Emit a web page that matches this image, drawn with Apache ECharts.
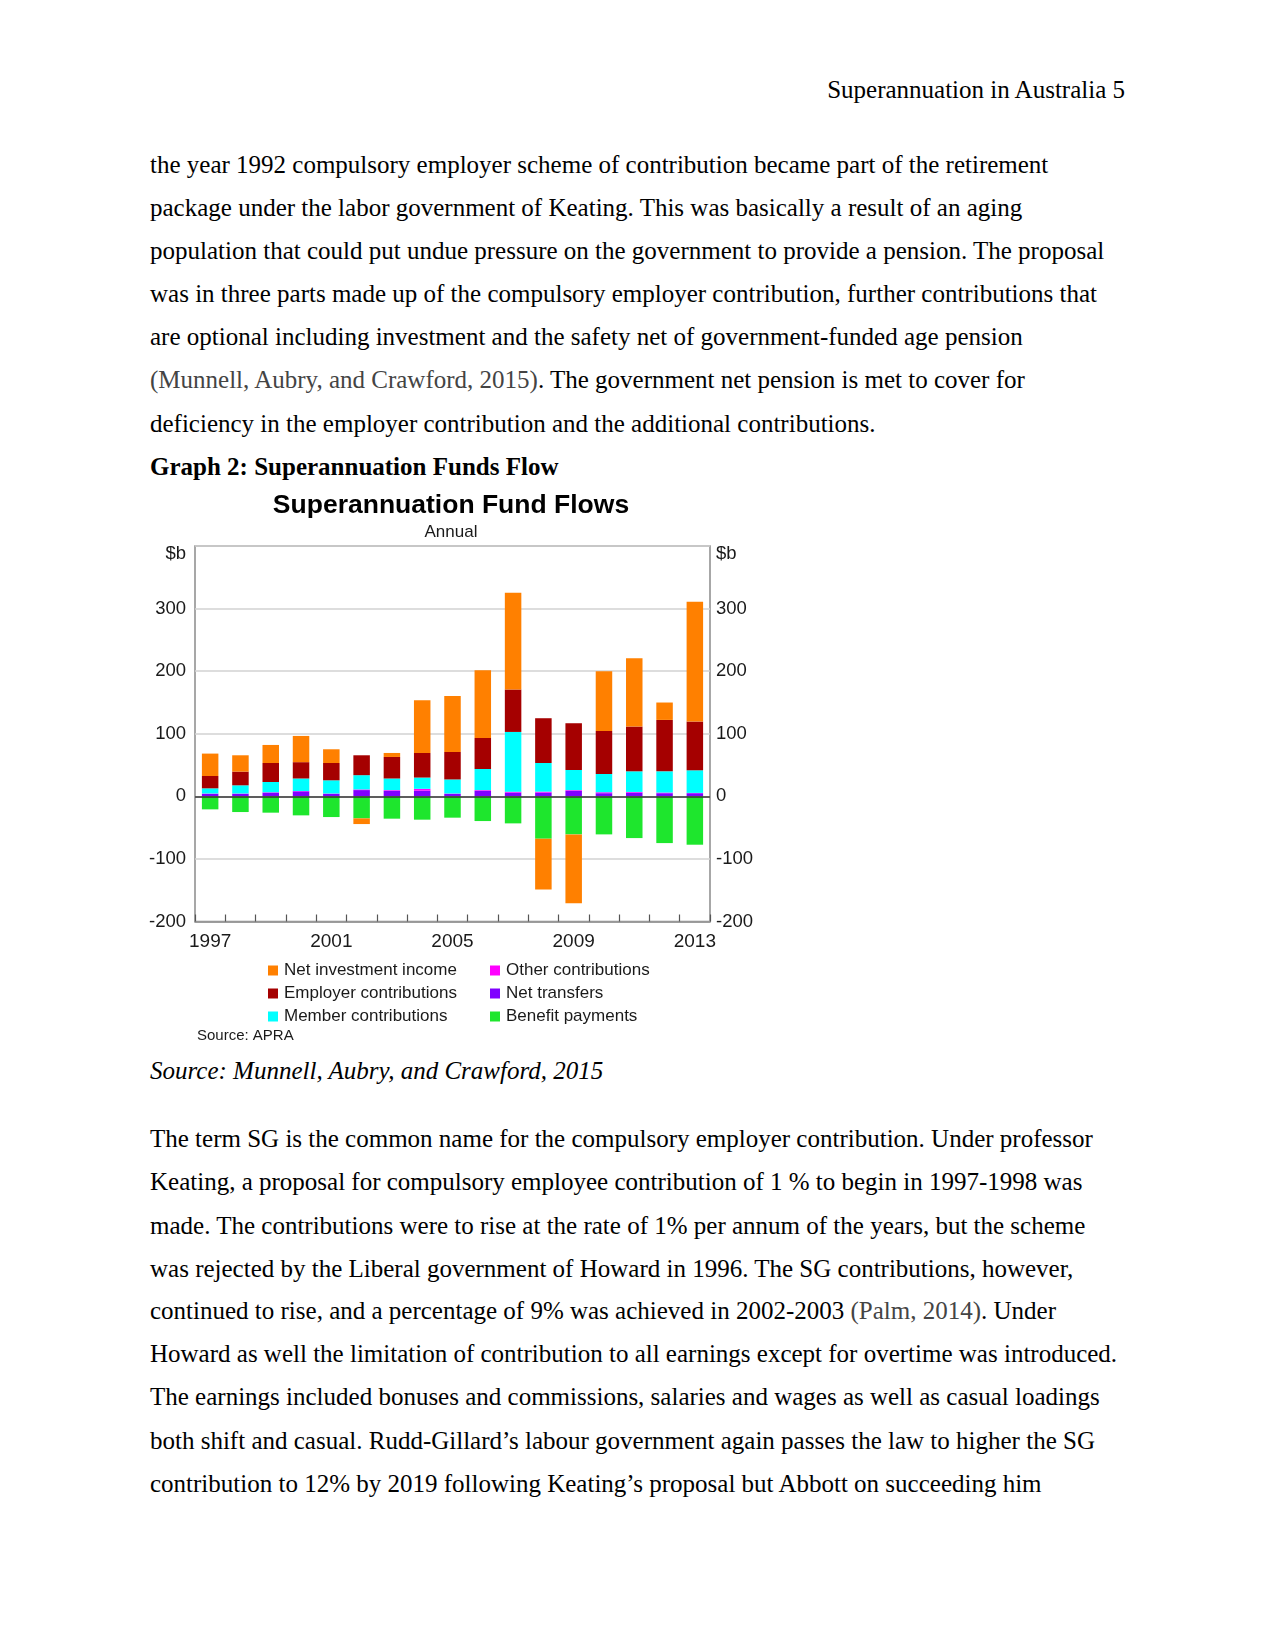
<!DOCTYPE html>
<html>
<head>
<meta charset="utf-8">
<script src="https://cdn.jsdelivr.net/npm/echarts@6/dist/echarts.min.js"></script>
<style>
  html, body { margin:0; padding:0; background:#fff; }
  #page { position:relative; width:1275px; height:1651px; overflow:hidden; background:#fff; }
  .ln { position:absolute; left:150px; white-space:nowrap; font-family:'Liberation Serif','Times New Roman',serif; font-size:25px; line-height:40px; height:40px; color:#000; }
  .cite { color:#444; }
  #chart { position:absolute; left:0; top:0; width:1275px; height:1651px; }
</style>
</head>
<body>
<div id="page">
  <div class="ln" style="left:auto; right:150px; top:70px;">Superannuation in Australia 5</div>
  <div class="ln" style="top:145px;">the year 1992 compulsory employer scheme of contribution became part of the retirement</div>
  <div class="ln" style="top:188px;">package under the labor government of Keating. This was basically a result of an aging</div>
  <div class="ln" style="top:231px;">population that could put undue pressure on the government to provide a pension. The proposal</div>
  <div class="ln" style="top:274px;">was in three parts made up of the compulsory employer contribution, further contributions that</div>
  <div class="ln" style="top:317px;">are optional including investment and the safety net of government-funded age pension</div>
  <div class="ln" style="top:360px;"><span class="cite">(Munnell, Aubry, and Crawford, 2015)</span>. The government net pension is met to cover for</div>
  <div class="ln" style="top:404px;">deficiency in the employer contribution and the additional contributions.</div>
  <div class="ln" style="top:447px; font-weight:bold;">Graph 2: Superannuation Funds Flow</div>
  <div class="ln" style="top:1051px; font-style:italic;">Source: Munnell, Aubry, and Crawford, 2015</div>
  <div class="ln" style="top:1119px;">The term SG is the common name for the compulsory employer contribution. Under professor</div>
  <div class="ln" style="top:1162px;">Keating, a proposal for compulsory employee contribution of 1 % to begin in 1997-1998 was</div>
  <div class="ln" style="top:1206px;">made. The contributions were to rise at the rate of 1% per annum of the years, but the scheme</div>
  <div class="ln" style="top:1249px;">was rejected by the Liberal government of Howard in 1996. The SG contributions, however,</div>
  <div class="ln" style="top:1291px;">continued to rise, and a percentage of 9% was achieved in 2002-2003 <span class="cite">(Palm, 2014)</span>. Under</div>
  <div class="ln" style="top:1334px;">Howard as well the limitation of contribution to all earnings except for overtime was introduced.</div>
  <div class="ln" style="top:1377px;">The earnings included bonuses and commissions, salaries and wages as well as casual loadings</div>
  <div class="ln" style="top:1421px;">both shift and casual. Rudd-Gillard’s labour government again passes the law to higher the SG</div>
  <div class="ln" style="top:1464px;">contribution to 12% by 2019 following Keating’s proposal but Abbott on succeeding him</div>
  <div id="chart"></div>
</div>
<script>
// ---- data (A$ billions) ----
const years = ['1997','1998','1999','2000','2001','2002','2003','2004','2005','2006','2007','2008','2009','2010','2011','2012','2013'];
const netTransfers = [4, 4, 6, 8, 4, 10, 9, 9, 4, 9, 6, 6, 9, 5, 6, 5, 5];
const otherContributions = [0.5, 0.5, 0.5, 0.5, 0.5, 1, 1, 3, 0.5, 1, 1.5, 1.5, 1, 1.5, 1, 1, 0.5];
const memberContributions = [8.3, 13.1, 16.4, 20, 21.1, 22.8, 18.5, 18, 22.5, 33.7, 95.4, 45.8, 32.1, 29.2, 33, 34, 36.1];
const employerContributions = [19.7, 21.9, 30.4, 26.1, 27.7, 31.8, 34.4, 39.3, 43.9, 49.6, 67.8, 71.5, 74.7, 68.8, 71.5, 82.1, 77.9];
const benefitPayments = [-20.8, -25.1, -26.1, -30.4, -33.1, -35.2, -35.7, -37.3, -34.1, -39.5, -43.2, -67.7, -60.8, -60.8, -66.7, -74.7, -77.3];
const netInvestmentIncome = [35.8, 26.1, 28.8, 41.9, 21.9, -9.1, 6.4, 84.3, 89.6, 108.3, 154.6, -81.1, -109.9, 95.5, 109.3, 27.8, 191.4];
const yTicks = { min: -200, max: 400, step: 100 };

const COLORS = {
  inv: '#FF8000', emp: '#A50000', mem: '#00FFFF', oth: '#FF00FF', tr: '#8000FF', ben: '#1EE62D'
};
const SANS = "'Liberation Sans', Arial, sans-serif";

const chart = echarts.init(document.getElementById('chart'), null, { renderer: 'canvas' });

function bar(name, data, color, extra) {
  return Object.assign({
    name: name, type: 'bar', stack: 'total', data: data, barWidth: 16.5,
    itemStyle: { color: color }, emphasis: { disabled: true }
  }, extra || {});
}

const yLabel = {
  fontSize: 18.5, fontFamily: SANS, color: '#1a1a1a',
  formatter: v => v === yTicks.max ? '{d|$b}' : String(v),
  rich: { d: { fontSize: 18.5, fontFamily: SANS, color: '#1a1a1a', padding: [16, 0, 0, 0] } }
};

chart.setOption({
  animation: false,
  backgroundColor: 'transparent',
  textStyle: { fontFamily: SANS },
  grid: { left: 195, right: 565, top: 546, bottom: 729.5, show: true, borderColor: '#8a8a8a', borderWidth: 1.5, containLabel: false },
  xAxis: {
    type: 'category', data: years, boundaryGap: true,
    axisLine: { show: true, onZero: false, lineStyle: { color: '#8a8a8a', width: 1.5 } },
    axisTick: { show: true, inside: true, length: 7, interval: 0, lineStyle: { color: '#555', width: 1.2 } },
    axisLabel: { interval: 3, fontSize: 19, fontFamily: SANS, color: '#1a1a1a', margin: 11 },
    splitLine: { show: false }
  },
  yAxis: [
    { type: 'value', min: yTicks.min, max: yTicks.max, interval: yTicks.step, position: 'left',
      axisLine: { show: false }, axisTick: { show: false },
      axisLabel: Object.assign({ margin: 9 }, yLabel),
      splitLine: { show: true, lineStyle: { color: '#d2d2d2', width: 1.5 } } },
    { type: 'value', min: yTicks.min, max: yTicks.max, interval: yTicks.step, position: 'right',
      axisLine: { show: false }, axisTick: { show: false },
      axisLabel: Object.assign({ margin: 6 }, yLabel),
      splitLine: { show: false } }
  ],
  legend: [
    { orient: 'vertical', left: 263, top: 957, itemWidth: 10, itemHeight: 10, itemGap: 6, icon: 'rect',
      textStyle: { fontSize: 17, fontFamily: SANS, color: '#1a1a1a', padding: [0, 0, 0, 1] },
      data: ['Net investment income', 'Employer contributions', 'Member contributions'] },
    { orient: 'vertical', left: 485, top: 957, itemWidth: 10, itemHeight: 10, itemGap: 6, icon: 'rect',
      textStyle: { fontSize: 17, fontFamily: SANS, color: '#1a1a1a', padding: [0, 0, 0, 1] },
      data: ['Other contributions', 'Net transfers', 'Benefit payments'] }
  ],
  graphic: [
    { type: 'text', style: { text: 'Superannuation Fund Flows', x: 451, y: 506, textAlign: 'center', textVerticalAlign: 'middle', font: "bold 26.5px 'Liberation Sans', Arial, sans-serif", fill: '#000' } },
    { type: 'text', style: { text: 'Annual', x: 451, y: 532, textAlign: 'center', textVerticalAlign: 'middle', font: "17px 'Liberation Sans', Arial, sans-serif", fill: '#1a1a1a' } },
    { type: 'text', style: { text: 'Source: APRA', x: 197, y: 1036, textAlign: 'left', textVerticalAlign: 'middle', font: "15px 'Liberation Sans', Arial, sans-serif", fill: '#1a1a1a' } }
  ],
  series: [
    bar('Net transfers', netTransfers, COLORS.tr, {
      markLine: { silent: true, symbol: ['none', 'none'], label: { show: false },
        lineStyle: { color: '#333', width: 1.5, type: 'solid' }, data: [{ yAxis: 0 }] }
    }),
    bar('Other contributions', otherContributions, COLORS.oth),
    bar('Member contributions', memberContributions, COLORS.mem),
    bar('Employer contributions', employerContributions, COLORS.emp),
    bar('Benefit payments', benefitPayments, COLORS.ben),
    bar('Net investment income', netInvestmentIncome, COLORS.inv)
  ]
});
</script>
</body>
</html>
